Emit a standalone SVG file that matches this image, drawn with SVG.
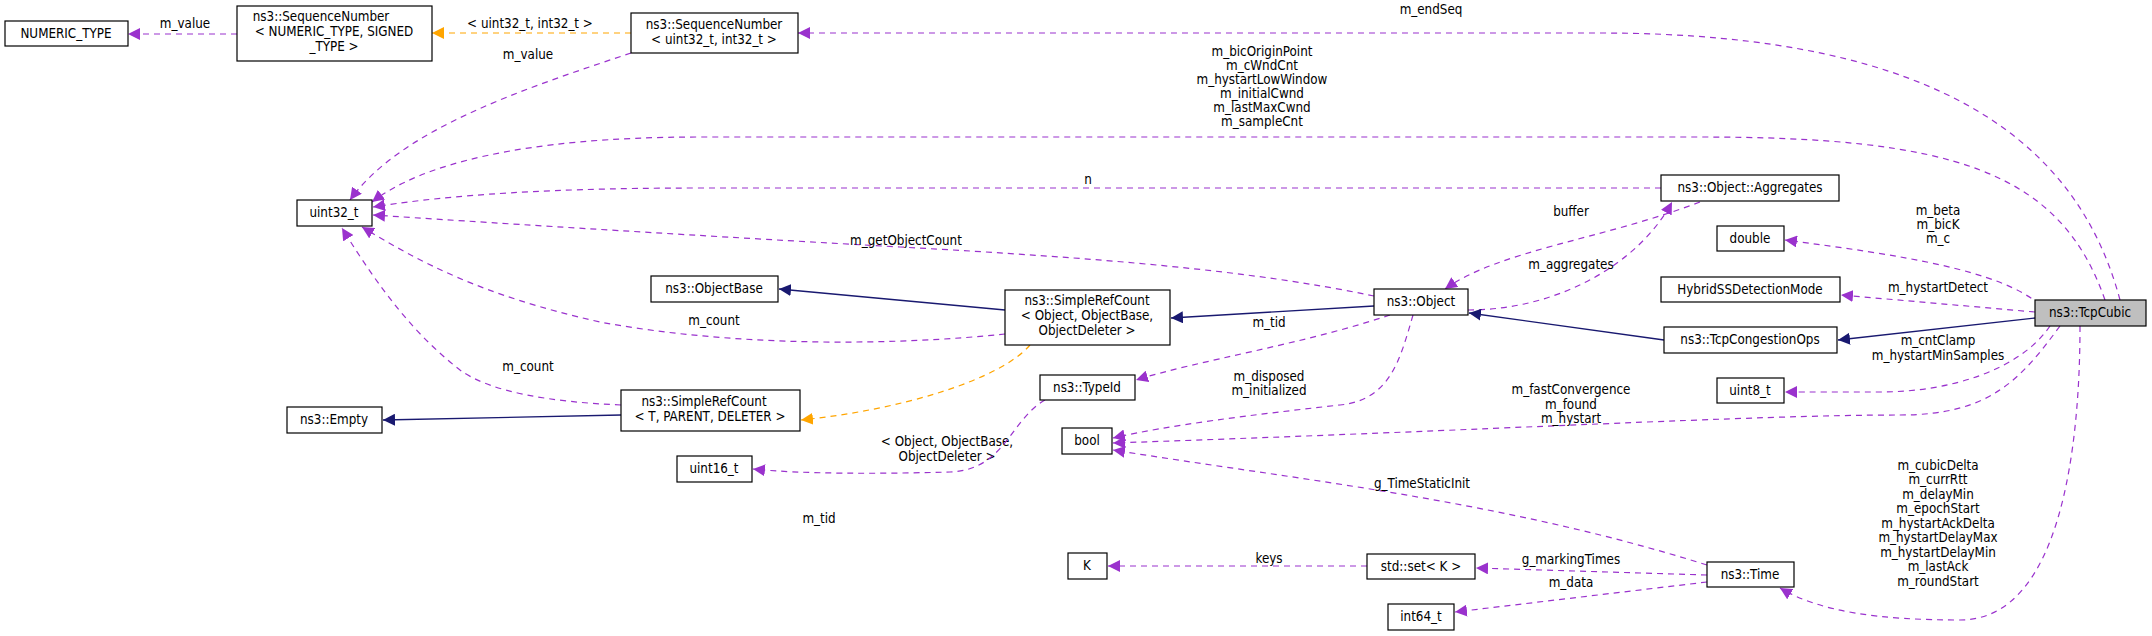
<svg xmlns="http://www.w3.org/2000/svg" width="2152" height="636" viewBox="0 0 2152 636">
<defs>
<style>
text{font-family:"DejaVu Sans Condensed","DejaVu Sans",sans-serif;font-size:13.3px;text-anchor:middle;fill:#000}
.n rect{fill:#fff;stroke:#000;stroke-width:1.2}
.p{fill:none;stroke:#9a32cd;stroke-dasharray:6,5;stroke-width:1.2;marker-end:url(#mp)}
.o{fill:none;stroke:#ffa500;stroke-dasharray:6,5;stroke-width:1.2;marker-end:url(#mo)}
.b{fill:none;stroke:#191970;stroke-width:1.4;marker-end:url(#mb)}
</style>
<marker id="mp" viewBox="0 0 10 10" refX="10" refY="5" markerWidth="12" markerHeight="12" markerUnits="userSpaceOnUse" orient="auto"><path d="M0,0L10,5L0,10z" fill="#9a32cd"/></marker>
<marker id="mo" viewBox="0 0 10 10" refX="10" refY="5" markerWidth="12" markerHeight="12" markerUnits="userSpaceOnUse" orient="auto"><path d="M0,0L10,5L0,10z" fill="#ffa500"/></marker>
<marker id="mb" viewBox="0 0 10 10" refX="10" refY="5" markerWidth="12" markerHeight="12" markerUnits="userSpaceOnUse" orient="auto"><path d="M0,0L10,5L0,10z" fill="#191970"/></marker>
</defs>
<rect width="2152" height="636" fill="#fff"/>
<g id="edges">
<path class="p" d="M237,34L128,34"/><text x="185" y="28">m_value</text>
<path class="o" d="M631,33L432,33"/><text x="530" y="28">&lt; uint32_t, int32_t &gt;</text>
<path class="p" d="M631,53C520,90 400,130 350,200"/><text x="528" y="59">m_value</text>
<path class="p" d="M2120,300C2080,150 1950,33 1600,33L798,33"/><text x="1431" y="14">m_endSeq</text>
<path class="p" d="M2105,300C2060,170 1950,137 1700,137L700,137C520,137 420,165 372,202"/>
<text x="1262" y="56">m_bicOriginPoint</text><text x="1262" y="70">m_cWndCnt</text><text x="1262" y="84">m_hystartLowWindow</text><text x="1262" y="98">m_initialCwnd</text><text x="1262" y="112">m_lastMaxCwnd</text><text x="1262" y="126">m_sampleCnt</text>
<path class="p" d="M1661,188L700,188C520,188 430,198 373,207"/><text x="1088" y="184">n</text>
<path class="p" d="M1374,296C1250,270 1100,258 900,247C650,233 480,222 373,215"/><text x="906" y="245">m_getObjectCount</text>
<path class="p" d="M1005,334C900,345 740,348 600,322C480,295 420,262 362,227"/><text x="714" y="325">m_count</text>
<path class="p" d="M621,405C550,402 490,392 460,370C415,335 380,290 342,228"/><text x="528" y="371">m_count</text>
<path class="b" d="M1005,310L779,289"/>
<path class="b" d="M1374,306L1171,318"/>
<path class="b" d="M621,415L383,420"/>
<path class="o" d="M1030,345C1000,380 900,410 801,420"/><text x="947" y="446">&lt; Object, ObjectBase,</text><text x="947" y="461">ObjectDeleter &gt;</text>
<path class="p" d="M1468,310C1560,310 1640,262 1672,202"/><text x="1571" y="269">m_aggregates</text>
<path class="p" d="M1700,202C1600,240 1500,250 1445,289"/><text x="1571" y="216">buffer</text>
<path class="p" d="M1390,315C1300,345 1200,360 1136,380"/><text x="1269" y="327">m_tid</text>
<path class="p" d="M1413,315C1400,360 1390,400 1340,405C1250,415 1170,425 1113,438"/><text x="1269" y="381">m_disposed</text><text x="1269" y="395">m_initialized</text>
<path class="p" d="M1045,400C1010,420 1005,470 950,472C880,474 800,474 753,469"/><text x="819" y="523">m_tid</text>
<path class="p" d="M2040,305C2000,270 1900,255 1785,240"/><text x="1938" y="215">m_beta</text><text x="1938" y="229">m_bicK</text><text x="1938" y="243">m_c</text>
<path class="p" d="M2035,312L1841,295"/><text x="1938" y="292">m_hystartDetect</text>
<path class="b" d="M2035,318L1838,340"/>
<path class="b" d="M1664,340L1469,313"/>
<path class="p" d="M2050,326C2020,370 1950,392 1880,392C1840,392 1810,392 1785,392"/><text x="1938" y="345">m_cntClamp</text><text x="1938" y="360">m_hystartMinSamples</text>
<path class="p" d="M2060,326C2020,380 1990,415 1900,415C1750,415 1500,430 1113,443"/><text x="1571" y="394">m_fastConvergence</text><text x="1571" y="409">m_found</text><text x="1571" y="423">m_hystart</text>
<path class="p" d="M1707,565C1500,500 1300,480 1113,450"/><text x="1422" y="488">g_TimeStaticInit</text>
<path class="p" d="M1707,575L1476,568"/><text x="1571" y="564">g_markingTimes</text>
<path class="p" d="M1367,566L1108,566"/><text x="1269" y="563">keys</text>
<path class="p" d="M1707,582L1455,612"/><text x="1571" y="587">m_data</text>
<path class="p" d="M2080,326C2080,450 2060,620 1960,620C1880,620 1820,612 1780,588"/>
<text x="1938" y="470">m_cubicDelta</text><text x="1938" y="484">m_currRtt</text><text x="1938" y="499">m_delayMin</text><text x="1938" y="513">m_epochStart</text><text x="1938" y="528">m_hystartAckDelta</text><text x="1938" y="542">m_hystartDelayMax</text><text x="1938" y="557">m_hystartDelayMin</text><text x="1938" y="571">m_lastAck</text><text x="1938" y="586">m_roundStart</text>
</g>
<g id="NUMERIC_TYPE" class="n"><rect x="5" y="21" width="123" height="25"/><text x="66" y="38">NUMERIC_TYPE</text></g>
<g id="SeqNumGeneric" class="n"><rect x="237" y="6" width="195" height="55"/><text x="321" y="21">ns3::SequenceNumber</text><text x="334" y="36">&lt; NUMERIC_TYPE, SIGNED</text><text x="334" y="51">_TYPE &gt;</text></g>
<g id="SeqNumU32" class="n"><rect x="631" y="13" width="167" height="40"/><text x="714" y="29">ns3::SequenceNumber</text><text x="714" y="44">&lt; uint32_t, int32_t &gt;</text></g>
<g id="uint32_t" class="n"><rect x="297" y="200" width="75" height="26"/><text x="334" y="217">uint32_t</text></g>
<g id="ObjectBase" class="n"><rect x="651" y="276" width="127" height="26"/><text x="714" y="293">ns3::ObjectBase</text></g>
<g id="SimpleRefCountObj" class="n"><rect x="1005" y="290" width="165" height="55"/><text x="1087" y="305">ns3::SimpleRefCount</text><text x="1087" y="320">&lt; Object, ObjectBase,</text><text x="1087" y="335">ObjectDeleter &gt;</text></g>
<g id="Object" class="n"><rect x="1374" y="289" width="94" height="26"/><text x="1421" y="306">ns3::Object</text></g>
<g id="Aggregates" class="n"><rect x="1661" y="175" width="178" height="26"/><text x="1750" y="192">ns3::Object::Aggregates</text></g>
<g id="double" class="n"><rect x="1717" y="226" width="67" height="25"/><text x="1750" y="243">double</text></g>
<g id="HybridSSDetectionMode" class="n"><rect x="1661" y="277" width="179" height="25"/><text x="1750" y="294">HybridSSDetectionMode</text></g>
<g id="TcpCubic"><rect x="2035" y="300" width="111" height="26" fill="#bfbfbf" stroke="#000" stroke-width="1.2"/><text x="2090" y="317">ns3::TcpCubic</text></g>
<g id="TcpCongestionOps" class="n"><rect x="1664" y="327" width="173" height="26"/><text x="1750" y="344">ns3::TcpCongestionOps</text></g>
<g id="uint8_t" class="n"><rect x="1717" y="378" width="67" height="25"/><text x="1750" y="395">uint8_t</text></g>
<g id="Empty" class="n"><rect x="287" y="407" width="95" height="26"/><text x="334" y="424">ns3::Empty</text></g>
<g id="SimpleRefCountT" class="n"><rect x="621" y="390" width="179" height="41"/><text x="704" y="406">ns3::SimpleRefCount</text><text x="710" y="421">&lt; T, PARENT, DELETER &gt;</text></g>
<g id="TypeId" class="n"><rect x="1040" y="375" width="95" height="25"/><text x="1087" y="392">ns3::TypeId</text></g>
<g id="uint16_t" class="n"><rect x="677" y="456" width="75" height="26"/><text x="714" y="473">uint16_t</text></g>
<g id="bool" class="n"><rect x="1062" y="428" width="50" height="26"/><text x="1087" y="445">bool</text></g>
<g id="K" class="n"><rect x="1068" y="553" width="39" height="26"/><text x="1087" y="570">K</text></g>
<g id="stdset" class="n"><rect x="1367" y="554" width="108" height="25"/><text x="1421" y="571">std::set&lt; K &gt;</text></g>
<g id="Time" class="n"><rect x="1707" y="562" width="87" height="25"/><text x="1750" y="579">ns3::Time</text></g>
<g id="int64_t" class="n"><rect x="1388" y="604" width="66" height="26"/><text x="1421" y="621">int64_t</text></g>
</svg>
